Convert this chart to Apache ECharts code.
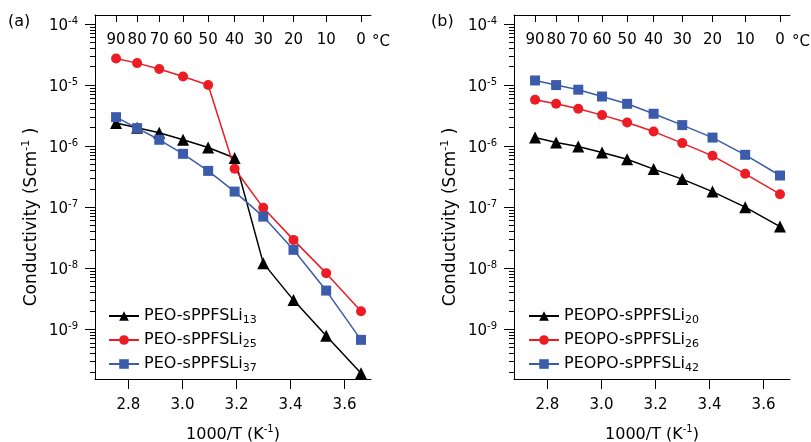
<!DOCTYPE html>
<html><head><meta charset="utf-8">
<script src="https://cdn.jsdelivr.net/npm/echarts@6/dist/echarts.min.js"></script>
<style>html,body{margin:0;padding:0;background:#fff}#c{width:811px;height:442px}</style>
</head><body><div id="c"></div>
<script>
// 1000/T positions of the measured temperatures (90..0 °C)
const invT = [2.754, 2.832, 2.914, 3.002, 3.095, 3.193, 3.299, 3.411, 3.532, 3.661];
const tempLabels = ['90','80','70','60','50','40','30','20','10','0'];
const bottomTicks = [2.8, 3.0, 3.2, 3.4, 3.6];
const decadeTicks = [1e-9, 1e-8, 1e-7, 1e-6, 1e-5, 1e-4];

// panel (a)
const namesA = ['PEO-sPPFSLi13', 'PEO-sPPFSLi25', 'PEO-sPPFSLi37'];
const peo13 = [2.4e-6, 2.0e-6, 1.65e-6, 1.27e-6, 9.5e-7, 6.4e-7, 1.21e-8, 3.0e-9, 7.8e-10, 1.9e-10];
const peo25 = [2.73e-5, 2.29e-5, 1.83e-5, 1.38e-5, 1.0e-5, 4.25e-7, 9.75e-8, 2.91e-8, 8.3e-9, 1.97e-9];
const peo37 = [2.98e-6, 1.97e-6, 1.27e-6, 7.48e-7, 3.93e-7, 1.8e-7, 7.0e-8, 2.0e-8, 4.3e-9, 6.7e-10];
// panel (b)
const namesB = ['PEOPO-sPPFSLi20', 'PEOPO-sPPFSLi26', 'PEOPO-sPPFSLi42'];
const peopo20 = [1.38e-6, 1.15e-6, 9.85e-7, 7.85e-7, 6.1e-7, 4.2e-7, 2.88e-7, 1.8e-7, 1.0e-7, 4.8e-8];
const peopo26 = [5.74e-6, 4.93e-6, 4.08e-6, 3.22e-6, 2.44e-6, 1.73e-6, 1.12e-6, 6.93e-7, 3.52e-7, 1.63e-7];
const peopo42 = [1.19e-5, 1.0e-5, 8.4e-6, 6.5e-6, 4.93e-6, 3.39e-6, 2.21e-6, 1.38e-6, 7.2e-7, 3.3e-7];

const FONT = 'DejaVu Sans';
const xMin = 2.676, xMax = 3.698;
const yMin = 1.53e-10, yMax = 1.406e-4;
const BLACK = '#000000', RED = '#ec1c24', BLUE = '#3b5bab';

const minorTicks = [];
for (let e = -10; e <= -4; e++) {
  for (let m = 2; m <= 9; m++) {
    const v = m * Math.pow(10, e);
    if (v > yMin && v < yMax) minorTicks.push(v);
  }
}

const axisLine = {show: true, lineStyle: {color: '#000', width: 1}};
const supRich = {
  a: {fontFamily: FONT, fontSize: 15, color: '#000', lineHeight: 16, padding: [4, 0, 0, 0]},
  b: {fontFamily: FONT, fontSize: 10, color: '#000', lineHeight: 11, verticalAlign: 'top'}
};
const titleRich = {
  a: {fontFamily: FONT, fontSize: 16, color: '#000', lineHeight: 17, padding: [4, 0, 0, 0]},
  b: {fontFamily: FONT, fontSize: 10, color: '#000', lineHeight: 11, verticalAlign: 'top'}
};
const yTitleRich = {
  a: {fontFamily: FONT, fontSize: 17, color: '#000', lineHeight: 18, padding: [4, 0, 0, 0]},
  b: {fontFamily: FONT, fontSize: 11, color: '#000', lineHeight: 11, verticalAlign: 'top'}
};

function xAxes(g) {
  return [
    {
      type: 'value', gridIndex: g, position: 'bottom', min: xMin, max: xMax,
      splitLine: {show: false}, axisLine: axisLine,
      axisTick: {customValues: bottomTicks, length: 10, lineStyle: {color: '#000'}},
      axisLabel: {customValues: bottomTicks, formatter: v => v.toFixed(1), margin: 19,
        fontFamily: FONT, fontSize: 15, color: '#000'},
      name: '{a|1000/T (K}{b|-1}{a|)}', nameLocation: 'middle', nameGap: 45,
      nameTextStyle: {rich: titleRich}
    },
    {
      type: 'value', gridIndex: g, position: 'top', min: xMin, max: xMax,
      splitLine: {show: false}, axisLine: axisLine,
      axisTick: {customValues: invT, inside: true, length: 7, lineStyle: {color: '#000'}},
      axisLabel: {customValues: invT, inside: true, margin: 18, fontFamily: FONT, fontSize: 15, color: '#000',
        formatter: v => {
          let best = 0;
          invT.forEach((p, i) => { if (Math.abs(p - v) < Math.abs(invT[best] - v)) best = i; });
          return tempLabels[best];
        }}
    }
  ];
}
function yAxes(g) {
  return [
    {
      type: 'log', gridIndex: g, position: 'left', min: yMin, max: yMax,
      splitLine: {show: false}, axisLine: axisLine,
      axisTick: {customValues: decadeTicks, length: 10, lineStyle: {color: '#000'}},
      axisLabel: {customValues: decadeTicks, margin: 17, rich: supRich,
        formatter: v => '{a|10}{b|' + Math.round(Math.log10(v)) + '}'}
    },
    {
      type: 'log', gridIndex: g, position: 'left', min: yMin, max: yMax,
      splitLine: {show: false}, axisLine: {show: false},
      axisTick: {customValues: minorTicks, length: 5, lineStyle: {color: '#000'}},
      axisLabel: {show: false}
    }
  ];
}

function mkSeries(name, vals, xi, yi, color, symbol, size) {
  return {
    name: name, type: 'line', xAxisIndex: xi, yAxisIndex: yi,
    data: vals.map((v, i) => [invT[i], v]),
    symbol: symbol, symbolSize: size,
    lineStyle: {color: color, width: 1.5},
    itemStyle: {color: color},
    emphasis: {disabled: true}
  };
}

const legendRich = {
  n: {fontFamily: FONT, fontSize: 16, color: '#000', lineHeight: 16},
  s: {fontFamily: FONT, fontSize: 11, color: '#000', lineHeight: 11, padding: [9, 0, 0, 0]}
};
function legendFmt(name) {
  const m = name.match(/^(.*?)(\d+)$/);
  return '{n|' + m[1] + '}{s|' + m[2] + '}';
}
function mkLegend(left, data) {
  return {
    left: left, top: 301, orient: 'vertical', itemWidth: 30, itemHeight: 12, itemGap: 4,
    data: data, formatter: legendFmt, textStyle: {rich: legendRich}, selectedMode: false
  };
}

const yTitle = '{a|Conductivity (Scm}{b|-1}{a| )}';
const option = {
  animation: false,
  backgroundColor: '#fff',
  grid: [
    {left: 95, top: 15, width: 276, height: 364, outerBoundsMode: 'none'},
    {left: 514, top: 15, width: 276, height: 364, outerBoundsMode: 'none'}
  ],
  xAxis: [...xAxes(0), ...xAxes(1)],
  yAxis: [...yAxes(0), ...yAxes(1)],
  legend: [mkLegend(103, namesA), mkLegend(523, namesB)],
  series: [
    mkSeries(namesA[0], peo13, 0, 0, BLACK, 'triangle', 12),
    mkSeries(namesA[1], peo25, 0, 0, RED, 'circle', 10),
    mkSeries(namesA[2], peo37, 0, 0, BLUE, 'rect', 10),
    mkSeries(namesB[0], peopo20, 2, 2, BLACK, 'triangle', 12),
    mkSeries(namesB[1], peopo26, 2, 2, RED, 'circle', 10),
    mkSeries(namesB[2], peopo42, 2, 2, BLUE, 'rect', 10)
  ],
  graphic: [
    {type: 'text', x: 8, y: 22, style: {text: '(a)', fontFamily: FONT, fontSize: 16, fill: '#000', verticalAlign: 'middle'}},
    {type: 'text', x: 431, y: 22, style: {text: '(b)', fontFamily: FONT, fontSize: 16, fill: '#000', verticalAlign: 'middle'}},
    {type: 'text', x: 372, y: 42, style: {text: '°C', fontFamily: FONT, fontSize: 15, fill: '#000', verticalAlign: 'middle'}},
    {type: 'text', x: 792, y: 42, style: {text: '°C', fontFamily: FONT, fontSize: 15, fill: '#000', verticalAlign: 'middle'}},
    {type: 'text', x: 30, y: 217, rotation: Math.PI / 2,
      style: {text: yTitle, rich: yTitleRich, align: 'center', verticalAlign: 'middle'}},
    {type: 'text', x: 449, y: 217, rotation: Math.PI / 2,
      style: {text: yTitle, rich: yTitleRich, align: 'center', verticalAlign: 'middle'}}
  ]
};
const chart = echarts.init(document.getElementById('c'));
chart.setOption(option);
</script>
</body></html>
